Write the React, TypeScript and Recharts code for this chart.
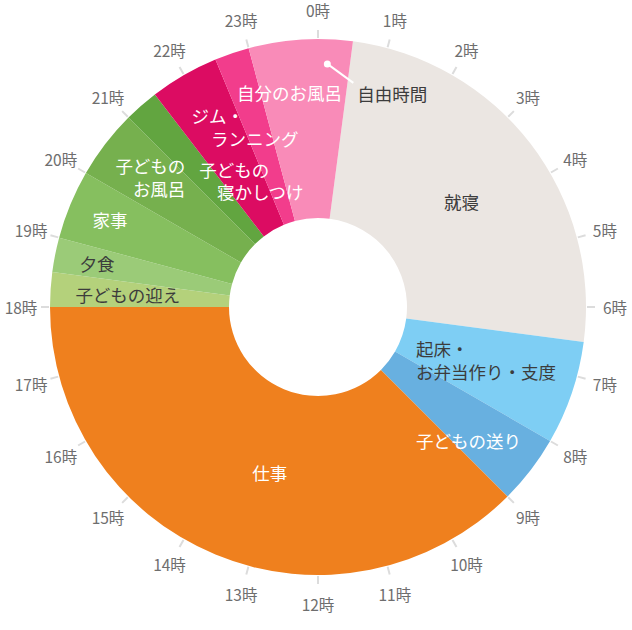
import { PieChart, Pie, Cell } from 'recharts'

// ─── Data ────────────────────────────────────────────────────────────────────

// 就寝 starts at 0:30, then the day runs clockwise
const START_HOUR = 0.5

const ACTIVITIES = [
  '就寝', '起床・お弁当作り・支度', '子どもの送り', '仕事', '子どもの迎え', '夕食',
  '家事', '子どものお風呂', '子どもの寝かしつけ', 'ジム・ランニング', '自分のお風呂', '自由時間',
]
const HOURS = [6, 1.5, 1, 9, 0.5, 0.5, 1, 1, 0.5, 1, 0.5, 1.5]
const COLORS = [
  '#ebe6e2', '#7ecef4', '#68b0e0', '#ef801e', '#b4d17b', '#9bcb78',
  '#86bf5f', '#76b04e', '#62a540', '#dc0c62', '#f23d8c', '#f98bb8',
]

const HOUR_LABELS = [
  '0時', '1時', '2時', '3時', '4時', '5時', '6時', '7時', '8時', '9時', '10時', '11時',
  '12時', '13時', '14時', '15時', '16時', '17時', '18時', '19時', '20時', '21時', '22時', '23時',
]

const scheduleData = ACTIVITIES.map((name, i) => ({ name, hours: HOURS[i] }))
const clockData = HOUR_LABELS.map(label => ({ label, value: 1 }))

// ─── Label layout (offsets from each slice centroid) ─────────────────────────

const DARK = '#3c3c3c'
const WHITE = '#ffffff'

type Line = { text: string; dx: number; dy: number; anchor?: 'start' | 'middle' | 'end' }
type Layout = { color: string; lines: Line[]; pointer?: { x1: number; y1: number; x2: number; y2: number } }

const LABEL_LAYOUT: Record<string, Layout> = {
  '就寝': { color: DARK, lines: [{ text: '就寝', dx: 2, dy: 3 }] },
  '起床・お弁当作り・支度': {
    color: DARK,
    lines: [
      { text: '起床・', dx: -71, dy: -16, anchor: 'start' },
      { text: 'お弁当作り・支度', dx: -71, dy: 7, anchor: 'start' },
    ],
  },
  '子どもの送り': { color: WHITE, lines: [{ text: '子どもの送り', dx: 9, dy: 25 }] },
  '仕事': { color: WHITE, lines: [{ text: '仕事', dx: 20, dy: 1 }] },
  '子どもの迎え': { color: DARK, lines: [{ text: '子どもの迎え', dx: -12, dy: -1 }] },
  '夕食': { color: DARK, lines: [{ text: '夕食', dx: -46, dy: -9 }] },
  '家事': { color: WHITE, lines: [{ text: '家事', dx: -43, dy: -19 }] },
  '子どものお風呂': {
    color: WHITE,
    lines: [
      { text: '子どもの', dx: 9, dy: -33, anchor: 'end' },
      { text: 'お風呂', dx: 9, dy: -10, anchor: 'end' },
    ],
  },
  '子どもの寝かしつけ': {
    color: WHITE,
    lines: [
      { text: '子どもの', dx: 34, dy: -3 },
      { text: '寝かしつけ', dx: 60, dy: 19 },
    ],
  },
  'ジム・ランニング': {
    color: WHITE,
    lines: [
      { text: 'ジム・', dx: -11, dy: -37 },
      { text: 'ランニング', dx: 26, dy: -14 },
    ],
  },
  '自分のお風呂': { color: WHITE, lines: [{ text: '自分のお風呂', dx: 29, dy: -45 }] },
  '自由時間': {
    color: DARK,
    lines: [{ text: '自由時間', dx: 51, dy: -35, anchor: 'start' }],
    pointer: { x1: 21, y1: -65, x2: 47, y2: -46 },
  },
}

const RAD = Math.PI / 180
const FONT = '"Noto Sans CJK JP", "Noto Sans", sans-serif'

// ─── Labels ──────────────────────────────────────────────────────────────────

function SegmentLabel(props: any) {
  const { cx, cy, midAngle, innerRadius, outerRadius, payload } = props
  const layout = LABEL_LAYOUT[payload?.name ?? props.name]
  if (!layout) return null
  const r = (innerRadius + outerRadius) / 2
  const x = cx + r * Math.cos(-midAngle * RAD)
  const y = cy + r * Math.sin(-midAngle * RAD)
  return (
    <g>
      {layout.pointer && (
        <g>
          <line
            x1={x + layout.pointer.x1} y1={y + layout.pointer.y1}
            x2={x + layout.pointer.x2} y2={y + layout.pointer.y2}
            stroke="#fff" strokeWidth={2}
          />
          <circle cx={x + layout.pointer.x1} cy={y + layout.pointer.y1} r={3.5} fill="#fff" />
        </g>
      )}
      {layout.lines.map(l => (
        <text
          key={l.text}
          x={x + l.dx}
          y={y + l.dy}
          textAnchor={l.anchor ?? 'middle'}
          dominantBaseline="central"
          fontSize={17.5}
          fontFamily={FONT}
          fill={layout.color}
        >
          {l.text}
        </text>
      ))}
    </g>
  )
}

function HourTick(props: any) {
  const { cx, cy, midAngle, outerRadius, payload } = props
  const c = Math.cos(-midAngle * RAD)
  const s = Math.sin(-midAngle * RAD)
  const r0 = outerRadius + 1
  const r1 = outerRadius + 9
  const rt = outerRadius + 29
  return (
    <g>
      <line x1={cx + r0 * c} y1={cy + r0 * s} x2={cx + r1 * c} y2={cy + r1 * s} stroke="#dcdcdc" strokeWidth={2} />
      <text
        x={cx + rt * c}
        y={cy + rt * s}
        textAnchor="middle"
        dominantBaseline="central"
        fontSize={15.5}
        fontFamily={FONT}
        fill="#6e6e6e"
      >
        {payload?.label}
      </text>
    </g>
  )
}

// ─── Chart ───────────────────────────────────────────────────────────────────

export default function App() {
  const start = 90 - START_HOUR * 15
  return (
    <div style={{ position: 'absolute', left: 0, top: 0, width: 632, height: 630, background: '#fff' }}>
      <PieChart width={632} height={630} margin={{ top: 0, right: 0, bottom: 0, left: 0 }}>
        <Pie
          data={clockData}
          dataKey="value"
          nameKey="label"
          cx={318}
          cy={307}
          innerRadius={262}
          outerRadius={268}
          startAngle={97.5}
          endAngle={-262.5}
          fill="none"
          stroke="none"
          label={HourTick}
          labelLine={false}
          isAnimationActive={false}
        />
        <Pie
          data={scheduleData}
          dataKey="hours"
          nameKey="name"
          cx={318}
          cy={307}
          innerRadius={89}
          outerRadius={268}
          startAngle={start}
          endAngle={start - 360}
          stroke="none"
          label={SegmentLabel}
          labelLine={false}
          isAnimationActive={false}
        >
          {scheduleData.map((d, i) => (
            <Cell key={d.name} fill={COLORS[i]} />
          ))}
        </Pie>
      </PieChart>
    </div>
  )
}
